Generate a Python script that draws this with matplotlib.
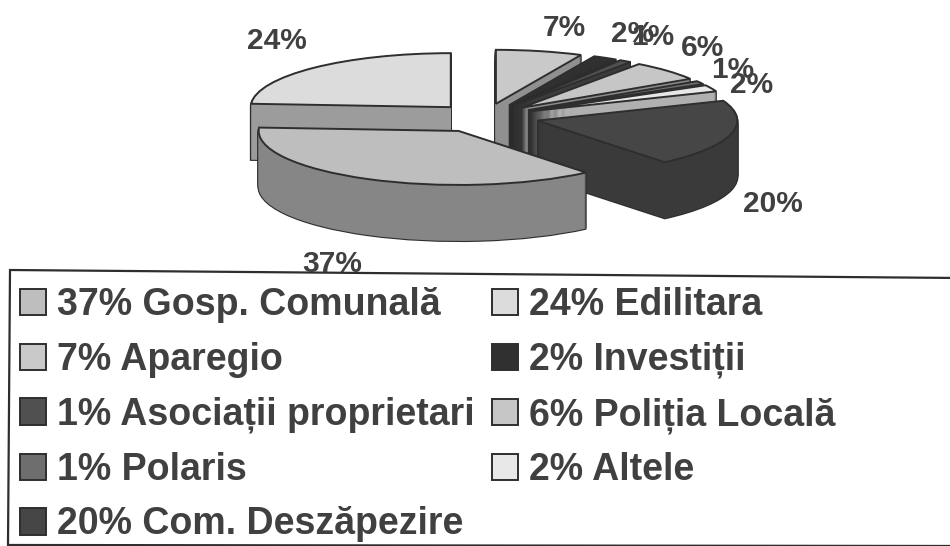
import matplotlib
matplotlib.use("Agg")
import matplotlib.pyplot as plt
from matplotlib.patches import Polygon

W, H = 950, 546

names = ["Gosp. Comunală", "Edilitara", "Aparegio", "Investiții", "Asociații proprietari",
         "Poliția Locală", "Polaris", "Altele", "Com. Deszăpezire"]
values = [37, 24, 7, 2, 1, 6, 1, 2, 20]
top_colors = ["#bebebe", "#dcdcdc", "#c9c9c9", "#303030", "#505050", "#c6c6c6", "#6e6e6e", "#e8e8e8", "#464646"]
side_colors = ["#868686", "#9c9c9c", "#909090", "#262626", "#3c3c3c", "#8c8c8c", "#555555", "#b0b0b0", "#3a3a3a"]
# back to front, so nearer slices cover the ones behind them
draw_rank = [8, 0, 1, 2, 3, 4, 5, 6, 7]
explode = [0.29, 0.25, 0.25, 0.25, 0.25, 0.25, 0.25, 0.25, 0.27]

# pixel position of the value labels
label_xy = [(332, 264), (277, 41), (564, 28), (633, 34), (653, 37), (702, 48), (733, 70), (752, 85), (773, 204)]

PIE_X, PIE_Y = 485, 117
RX, RY = 200, 54
DEPTH = 56
START = -50.4
EDGE = "#2e2e2e"
TEXT = "#404040"

plt.rcParams["font.family"] = ["Liberation Sans", "DejaVu Sans"]
plt.rcParams["font.weight"] = "bold"

fig = plt.figure(figsize=(W / 100, H / 100), dpi=100)
ax = fig.add_axes([0, 0, 1, 1])


def layer(offset, colors, edge, lw, z):
    wedges, _ = ax.pie(values, explode=explode, startangle=START, counterclock=False, radius=1,
                       colors=colors, center=(0, -offset),
                       wedgeprops=dict(edgecolor=edge, linewidth=lw))
    for w, r in zip(wedges, draw_rank):
        w.set_zorder(r + z)
    return wedges


# extruded sides: dark outline stack first, then the fill over it
for px in range(DEPTH, 0, -1):
    layer(px / RY, side_colors, EDGE, 1.6, 0.1 + (DEPTH - px) * 0.001)
for px in range(DEPTH, 0, -1):
    layer(px / RY, side_colors, "none", 0, 0.3 + (DEPTH - px) * 0.001)
tops = layer(0, top_colors, EDGE, 1.4, 0.6)

ax.set_aspect("auto")
ax.set_xlim(-PIE_X / RX, (W - PIE_X) / RX)
ax.set_ylim((PIE_Y - H) / RY, PIE_Y / RY)

for v, (x, y) in zip(values, label_xy):
    fig.text(x / W, 1 - y / H, f"{v}%", ha="center", va="center", fontsize=21.5, color=TEXT)

# legend frame, slightly skewed like the scan; it runs off the right side
frame = [(10 / W, 1 - 270 / H), (960 / W, 1 - 278 / H), (960 / W, 1 - 546 / H), (8 / W, 1 - 545 / H)]
fig.add_artist(Polygon(frame, closed=True, facecolor="white", edgecolor=EDGE, linewidth=1.6,
                       transform=fig.transFigure, zorder=3))

labels = [f"{v}% {n}" for v, n in zip(values, names)]
# row order in the picture: left column holds the odd entries
order = [0, 2, 4, 6, 8, 1, 3, 5, 7]
leg = fig.legend([tops[i] for i in order], [labels[i] for i in order], ncol=2,
                 loc="upper left", bbox_to_anchor=(20 / W, 1 - 287 / H), borderaxespad=0, borderpad=0,
                 frameon=False, fontsize=27, labelcolor=TEXT, handlelength=0.7, handleheight=0.7,
                 handletextpad=0.29, labelspacing=0.5, columnspacing=0.45)
leg.set_zorder(5)

fig.savefig("out.png", dpi=100)
